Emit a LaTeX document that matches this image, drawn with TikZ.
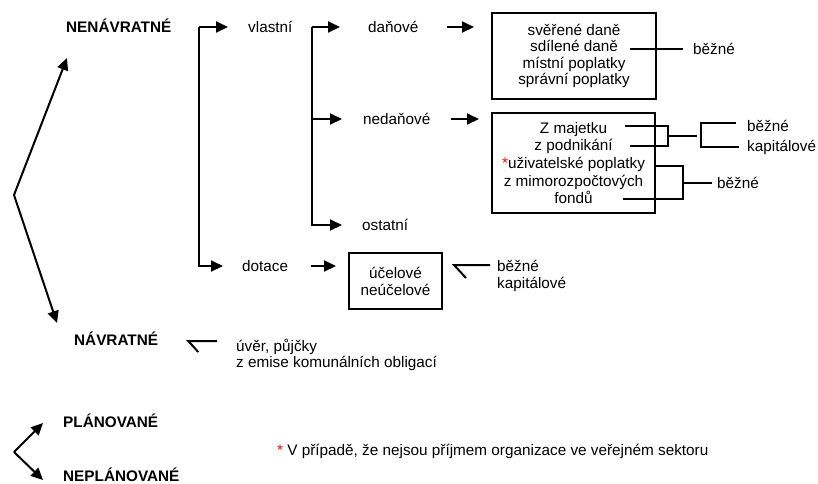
\documentclass[tikz,border=0pt]{standalone}
\usepackage{fontspec}
\setmainfont{Liberation Sans}
\usetikzlibrary{arrows.meta,calc}
\begin{document}
\begin{tikzpicture}[x=1pt,y=-1pt,
  every node/.style={font=\fontsize{15.3}{16.5}\selectfont, inner sep=0pt},
  lbl/.style={anchor=west, text height=11pt, text depth=0pt},
  head/.style={lbl, font=\fontsize{15.3}{16.5}\selectfont\bfseries},
  box/.style={draw, line width=2pt, align=center},
  ln/.style={line width=2pt},
  arr/.style={line width=2pt, -{Triangle[length=12pt,width=11pt]}},
]
\useasboundingbox (0,0) rectangle (818,483);

% headings
\node[head] (nen) at (66,27) {NENÁVRATNÉ};
\node[head] (nav) at (74,340) {NÁVRATNÉ};
\node[head] (plan) at (63,422) {PLÁNOVANÉ};
\node[head] (neplan) at (63,475.5) {NEPLÁNOVANÉ};

% labels
\node[lbl] (vl) at (248,27) {vlastní};
\node[lbl] (dot) at (242,266) {dotace};
\node[lbl] (dan) at (368,27) {daňové};
\node[lbl] (ned) at (363,119) {nedaňové};
\node[lbl] (ost) at (362,225) {ostatní};

% boxes
\node[box, minimum width=164pt, minimum height=86pt, font=\fontsize{15.3}{16.4}\selectfont] (b1) at (574,56)
  {svěřené daně\\sdílené daně\\místní poplatky\\správní poplatky};
\node[box, minimum width=163pt, minimum height=100pt, font=\fontsize{15.3}{17.7}\selectfont] (b2) at (573.5,163)
  {Z majetku\\z podnikání\\\textcolor{red}{*}uživatelské poplatky\\z mimorozpočtových\\fondů};
\node[box, minimum width=93pt, minimum height=56pt, font=\fontsize{15.3}{17}\selectfont] (b3) at (395.5,281)
  {účelové\\neúčelové};

% right-hand labels
\node[lbl] (bz1) at (693,49) {běžné};
\node[lbl] (bk1) at (747,126) {běžné};
\node[lbl] (bk2) at (747,146) {kapitálové};
\node[lbl] (bz2) at (717,183) {běžné};
\node[lbl] (db1) at (497,266) {běžné};
\node[lbl] (db2) at (497,283) {kapitálové};
\node[lbl] (uv1) at (236,346) {úvěr, půjčky};
\node[lbl] (uv2) at (236,362) {z emise komunálních obligací};

\node[lbl] (note) at (277,450) {\textcolor{red}{*} V případě, že nejsou příjmem organizace ve veřejném sektoru};

% big left arrows
\coordinate (v0) at (14,195);
\coordinate (t1) at (67,58);
\coordinate (t2) at (57,323);
\draw[arr] (v0) -- (t1);
\draw[arr] (v0) -- (t2);

\coordinate (v1) at (14,452);
\coordinate (t3) at (43,423);
\coordinate (t4) at (43,480);
\draw[arr] (v1) -- (t3);
\draw[arr] (v1) -- (t4);

% bracket 1
\coordinate (k1) at (199,27);
\draw[arr] (k1) -- ($(vl.west)+(-20,0)$);
\draw[arr] (k1) |- ($(dot.west)+(-19,0)$);

% bracket 2
\coordinate (k2) at (312,27);
\draw[arr] (k2) -- ($(dan.west)+(-28,0)$);
\draw[arr] (k2) |- ($(ned.west)+(-21,0)$);
\draw[arr] (k2) |- ($(ost.west)+(-20,0)$);

% arrows into boxes
\draw[arr] ($(dan.east)+(28,0)$) -- ($(b1.west |- dan.east)+(-17,0)$);
\draw[arr] ($(ned.east)+(20,0)$) -- ($(b2.west |- ned.east)+(-12,0)$);
\draw[arr] ($(dot.east)+(23,0)$) -- ($(b3.west |- dot.east)+(-12,0)$);

% box 1 to běžné
\draw[ln] ($(b1.center)+(56,-7)$) -- ($(bz1.west)+(-10,0)$);

% box 2 brackets
\draw[ln] ($(b2.center)+(51.5,-37)$) -| ($(b2.center)+(94.5,-17)$) -- ($(b2.center)+(56.5,-17)$);
\draw[ln] ($(b2.center)+(94.5,-27)$) -- ($(b2.center)+(123.5,-27)$);
\draw[ln] ($(bk1.west)+(-11,-3)$) -| ($(bk2.west)+(-46,1)$) -- ($(bk2.west)+(-8,1)$);

\draw[ln] ($(b2.east)+(0,3)$) -| ($(b2.center)+(109.5,36)$) -- ($(b2.center)+(49.5,36)$);
\draw[ln] ($(bz2.west)+(-34,0)$) -- ($(bz2.west)+(-5,0)$);

% harpoons
\draw[ln, line join=miter] ($(db1.west)+(-7,-1)$) -- ($(b3.east |- db1.west)+(11,-1)$) -- ++(12,13);
\draw[ln, line join=miter] ($(uv1.west)+(-19,-5)$) -- ($(nav.east)+(30,1)$) -- ++(10,11);
\end{tikzpicture}
\end{document}
